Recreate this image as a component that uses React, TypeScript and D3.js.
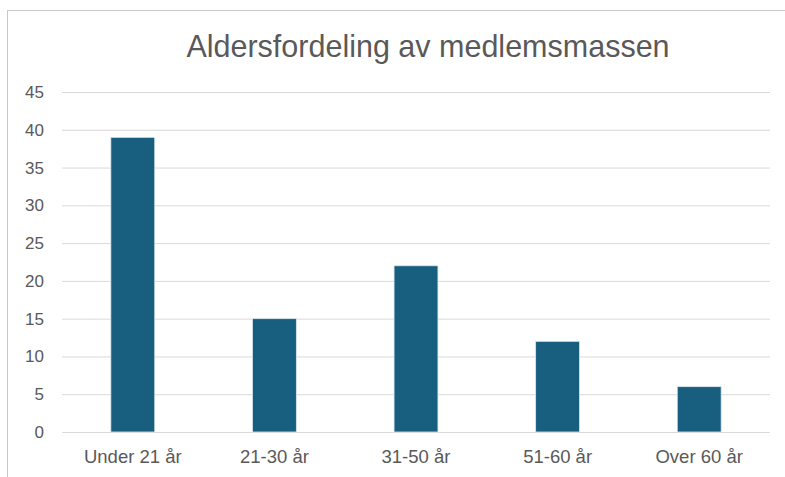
import { useEffect, useRef } from 'react';
import * as d3 from 'd3';

const categories = ['Under 21 år', '21-30 år', '31-50 år', '51-60 år', 'Over 60 år'];
const values = [39, 15, 22, 12, 6];
const yTicks = [0, 5, 10, 15, 20, 25, 30, 35, 40, 45];
const title = 'Aldersfordeling av medlemsmassen';

export default function App(): JSX.Element {
  const svgRef = useRef<SVGSVGElement>(null);

  useEffect(() => {
    if (!svgRef.current) return;
    svgRef.current.innerHTML = '';
    const width = 785;
    const height = 477;
    const marginLeft = 62;
    const marginRight = 15;
    const marginTop = 92;
    const plotBottom = 432;
    const font = '"Liberation Sans", Arial, Helvetica, sans-serif';
    const textColor = '#595959';

    const svg = d3.select(svgRef.current).attr('width', width).attr('height', height);

    // chart frame (runs off right/bottom edge like the screenshot)
    svg
      .append('rect')
      .attr('x', 7.5)
      .attr('y', 10.5)
      .attr('width', 900)
      .attr('height', 600)
      .attr('fill', '#fff')
      .attr('stroke', '#c9c9c9');

    const x = d3
      .scaleBand<string>()
      .domain(categories)
      .range([marginLeft, width - marginRight])
      .paddingInner(0.69)
      .paddingOuter(0.345);

    const y = d3.scaleLinear([0, 45], [plotBottom, marginTop]);

    // grid lines
    svg
      .append('g')
      .selectAll('line')
      .data(yTicks)
      .join('line')
      .attr('x1', marginLeft)
      .attr('x2', width - marginRight)
      .attr('y1', (d) => y(d) + 0.5)
      .attr('y2', (d) => y(d) + 0.5)
      .attr('stroke', '#d9d9d9')
      .attr('stroke-width', 1);

    // y tick labels
    svg
      .append('g')
      .selectAll('text')
      .data(yTicks)
      .join('text')
      .attr('x', 44)
      .attr('y', (d) => y(d))
      .attr('dy', '0.35em')
      .attr('text-anchor', 'end')
      .attr('font-family', font)
      .attr('font-size', 17)
      .attr('fill', textColor)
      .text((d) => d);

    // bars
    svg
      .append('g')
      .selectAll('rect')
      .data(values)
      .join('rect')
      .attr('x', (_, i) => x(categories[i])!)
      .attr('y', (d) => y(d))
      .attr('width', x.bandwidth())
      .attr('height', (d) => y(0) - y(d))
      .attr('fill', '#175e7f')
      .attr('stroke', '#dbe7ee')
      .attr('stroke-width', 0.8);

    // category labels
    svg
      .append('g')
      .selectAll('text')
      .data(categories)
      .join('text')
      .attr('x', (d) => x(d)! + x.bandwidth() / 2)
      .attr('y', 463)
      .attr('text-anchor', 'middle')
      .attr('font-family', font)
      .attr('font-size', 18.5)
      .attr('fill', textColor)
      .text((d) => d);

    // title
    svg
      .append('text')
      .attr('x', 428)
      .attr('y', 57)
      .attr('text-anchor', 'middle')
      .attr('font-family', font)
      .attr('font-size', 30.5)
      .attr('fill', textColor)
      .text(title);
  }, []);

  return (
    <div style={{ position: 'absolute', left: 0, top: 0 }}>
      <svg ref={svgRef} style={{ display: 'block' }} />
    </div>
  );
}
